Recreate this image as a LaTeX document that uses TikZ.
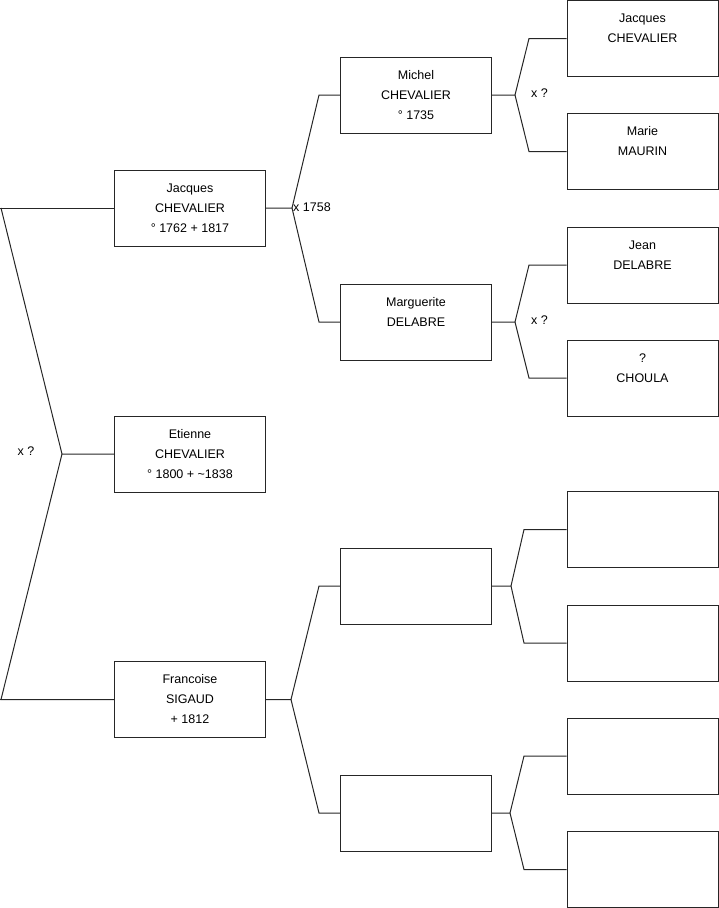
\documentclass[tikz,border=0pt]{standalone}
\usepackage{fontspec}
\setmainfont{Liberation Sans}
\newcommand{\trio}[3]{\strut#1\\\strut#2\\\strut#3}
\tikzset{
  personbox/.style={draw=black!85,line width=1pt,rectangle,minimum width=151pt,minimum height=76pt,inner sep=0pt,align=center},
  treeline/.style={draw=black!85,line width=1pt},
  couplelbl/.style={inner sep=0pt}
}

\begin{document}
\begin{tikzpicture}[x=1pt,y=-1pt,font=\fontsize{12.5}{20}\selectfont]
    \useasboundingbox (0,0) rectangle (719,908);

    % Generation 1
    \node[personbox] (jacques) at (190,208) {\trio{Jacques}{CHEVALIER}{° 1762 + 1817}};
    \node[personbox] (etienne) at (190,454) {\trio{Etienne}{CHEVALIER}{° 1800 + \textasciitilde 1838}};
    \node[personbox] (francoise) at (190,699.5) {\trio{Francoise}{SIGAUD}{+ 1812}};

    % Generation 2
    \node[personbox] (michel) at (416,95) {\trio{Michel}{CHEVALIER}{° 1735}};
    \node[personbox] (marguerite) at (416,322) {\trio{Marguerite}{DELABRE}{}};
    \node[personbox] (emptyA) at (416,586) {};
    \node[personbox] (emptyB) at (416,813) {};

    % Generation 3
    \node[personbox] (jacquesS) at (642.5,38.5) {\trio{Jacques}{CHEVALIER}{}};
    \node[personbox] (marie) at (642.5,151.5) {\trio{Marie}{MAURIN}{}};
    \node[personbox] (jean) at (642.5,265) {\trio{Jean}{DELABRE}{}};
    \node[personbox] (choula) at (642.5,378) {\trio{?}{CHOULA}{}};
    \node[personbox] (emptyC) at (642.5,529.5) {};
    \node[personbox] (emptyD) at (642.5,643) {};
    \node[personbox] (emptyE) at (642.5,756) {};
    \node[personbox] (emptyF) at (642.5,869.5) {};

    % Fork of Etienne's parents
    \coordinate (forkE) at (62,454);
    \coordinate (cornerJ) at (1,208);
    \coordinate (cornerF) at (1,699.5);
    \draw[treeline] (0,208) -- (jacques.west);
    \draw[treeline] (jacques.west -| cornerJ) -- (forkE) -- (etienne.west);
    \draw[treeline] (forkE) -- (cornerF) -- (francoise.west);
    \draw[treeline] (0,699.5) -- (cornerF);
    \node[couplelbl] (marEt) at (26,451) {x ?};

    % Fork of Jacques' parents
    \coordinate (forkJ) at (292,208);
    \coordinate (cornerMi) at (319,95);
    \coordinate (cornerMa) at (319,322);
    \draw[treeline] (jacques.east) -- (forkJ) -- (cornerMi) -- (michel.west);
    \draw[treeline] (forkJ) -- (cornerMa) -- (marguerite.west);
    \node[couplelbl,anchor=west] (marJ) at (293,207) {x 1758};

    % Fork of Francoise's parents
    \coordinate (forkF) at (291,699.5);
    \coordinate (cornerA) at (319,586);
    \coordinate (cornerB) at (319,813);
    \draw[treeline] (francoise.east) -- (forkF) -- (cornerA) -- (emptyA.west);
    \draw[treeline] (forkF) -- (cornerB) -- (emptyB.west);

    % Fork of Michel's parents
    \coordinate (forkMi) at (515,95);
    \coordinate (cornerJS) at (529,38.5);
    \coordinate (cornerMr) at (529,151.5);
    \draw[treeline] (michel.east) -- (forkMi) -- (cornerJS) -- (jacquesS.west);
    \draw[treeline] (forkMi) -- (cornerMr) -- (marie.west);
    \node[couplelbl] (marMi) at (539.5,93) {x ?};

    % Fork of Marguerite's parents
    \coordinate (forkMa) at (515,322);
    \coordinate (cornerJe) at (529,265);
    \coordinate (cornerCh) at (529,378);
    \draw[treeline] (marguerite.east) -- (forkMa) -- (cornerJe) -- (jean.west);
    \draw[treeline] (forkMa) -- (cornerCh) -- (choula.west);
    \node[couplelbl] (marMa) at (539.5,320) {x ?};

    % Forks of the empty boxes
    \coordinate (forkA) at (511,586);
    \coordinate (cornerC) at (524,529.5);
    \coordinate (cornerD) at (524,643);
    \draw[treeline] (emptyA.east) -- (forkA) -- (cornerC) -- (emptyC.west);
    \draw[treeline] (forkA) -- (cornerD) -- (emptyD.west);
    \coordinate (forkB) at (510,813);
    \coordinate (cornerE) at (524,756);
    \coordinate (cornerF2) at (524,869.5);
    \draw[treeline] (emptyB.east) -- (forkB) -- (cornerE) -- (emptyE.west);
    \draw[treeline] (forkB) -- (cornerF2) -- (emptyF.west);
\end{tikzpicture}
\end{document}
